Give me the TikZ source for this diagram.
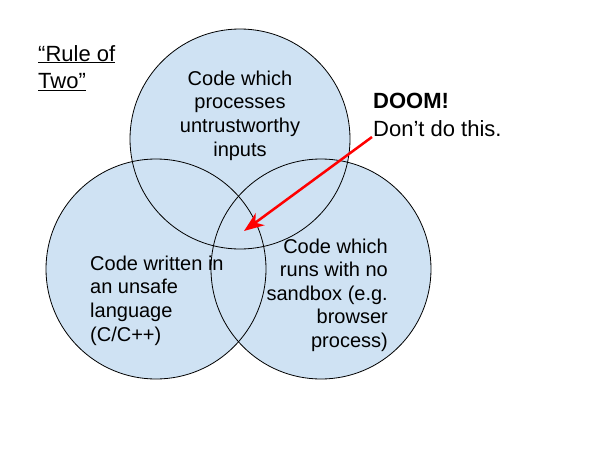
\documentclass[tikz,border=0pt]{standalone}
\usepackage{fontspec}
\setmainfont{Liberation Sans}
\usetikzlibrary{arrows.meta}
\definecolor{vennblue}{HTML}{CFE2F3}
\definecolor{doomred}{HTML}{FF0000}

\begin{document}
\begin{tikzpicture}[x=1pt,y=-1pt,
    vtext/.style={font=\fontsize{20}{23.6}\selectfont,inner sep=0pt},
    ntext/.style={font=\fontsize{22}{27.5}\selectfont,inner sep=0pt}]
        \useasboundingbox (0,0) rectangle (600,450);
        \fill [vennblue] (240,139)circle[radius=110];
        \fill [vennblue] (156,269)circle[radius=110];
        \fill [vennblue] (321,269)circle[radius=110];
        \draw [line width=0.8pt] (240,139)circle[radius=110];
        \draw [line width=0.8pt] (156,269)circle[radius=110];
        \draw [line width=0.8pt] (321,269)circle[radius=110];
        % base anchor sits on the last line
        \node[vtext,align=center,anchor=base] (untrusted) at (240,156) {Code which\\processes\\untrustworthy\\inputs};
        \node[vtext,align=left,anchor=base west] (unsafe) at (90,341) {Code written in\\an unsafe\\language\\(C/C++)};
        \node[vtext,align=right,anchor=base east] (nosandbox) at (388,347.5) {Code which\\runs with no\\sandbox (e.g.\\browser\\process)};
        \node[ntext,align=left,anchor=base west] (rule) at (38,88.5) {\underline{“Rule of}\\\underline{Two”}};
        \node[ntext,align=left,anchor=base west] (doom) at (373,136) {\textbf{DOOM!}\\Don’t do this.};
        \coordinate (doomtail) at (372,137);
        \coordinate (doomtip) at (244,231);
        \draw[doomred,line width=2.5pt,-{Stealth[length=20pt,width=15pt,inset=6pt]}] (doomtail)--(doomtip);
      \end{tikzpicture}
\end{document}
